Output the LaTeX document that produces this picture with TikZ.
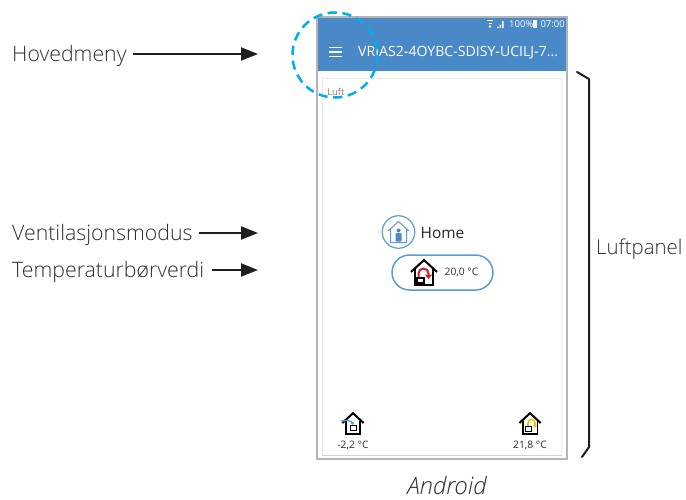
\documentclass[tikz,border=0pt]{standalone}
\usepackage{fontspec}
\setmainfont{Open Sans}
\newfontfamily\lightfont{Open Sans Light}
\usetikzlibrary{arrows.meta}
\definecolor{barblue}{HTML}{4A89C8}
\definecolor{ringblue}{HTML}{00AEEF}
\definecolor{pillblue}{HTML}{5B9BD5}
\definecolor{frame}{HTML}{B4B4B4}
\definecolor{inner}{HTML}{EAEAEA}
\definecolor{innerlow}{HTML}{D4D4D4}
\definecolor{ink}{HTML}{2E2E2E}
\definecolor{tempred}{HTML}{C8202F}
\definecolor{tempyel}{HTML}{F2C200}
\tikzset{
 x=1pt,y=-1pt,
 lbl/.style={font=\lightfont\fontsize{21.3}{24}\selectfont,text=ink,inner sep=0pt,anchor=base west},
 pointer/.style={draw=black!88,line width=2.2pt,-{Triangle[length=17pt,width=13pt]}},
 temp/.style={font=\fontsize{10.3}{12}\selectfont,text=ink,inner sep=0pt},
 housepic/.pic={
   \draw[black,line width=2pt,line join=miter] (-13,0) -- (0,-12) -- (13,0);
   \draw[black,line width=1.8pt] (-9,-3) -- (-9,13) -- (9,13) -- (9,-3);
 }
}
\begin{document}
\begin{tikzpicture}
\useasboundingbox (0,0) rectangle (686,499);
% phone
\node[draw=frame,line width=1.5pt,minimum width=250pt,minimum height=442pt,inner sep=0pt] (screen) at (442,238) {};
\node[fill=barblue,minimum width=248.5pt,minimum height=53pt,inner sep=0pt] (bar) at (442,44.5) {};
\node[draw=inner,line width=1pt,minimum width=239pt,minimum height=377pt,inner sep=0pt] (card) at (441.5,266.5) {};
\draw[innerlow,line width=1.4pt] (card.south west) -- (card.south east);
% status
\draw[white,line width=1pt] (487,20.5) -- (493,20.5) (488.5,23) -- (491.5,23);
\fill[white] (490,26.5) circle (1.3pt);
\fill[white] (497,28) rectangle (498.5,26.5) (499.5,28) rectangle (501,24.5) (502,28) rectangle (503.5,21);
\node[font=\fontsize{9.5}{11}\selectfont,text=white,inner sep=0pt,anchor=west] (pct) at (509,24) {100\%};
\node[fill=white,minimum width=4.5pt,minimum height=8.5pt,inner sep=0pt] (batt) at (535,24) {};
\node[font=\fontsize{9.5}{11}\selectfont,text=white,inner sep=0pt,anchor=east] (clock) at (565,24) {07:00};
% hamburger
\draw[white,line width=1.4pt] (329,47.5) -- (342,47.5) (329,52) -- (342,52) (329,56.5) -- (342,56.5);
\node[font=\fontsize{14.1}{16}\selectfont,text=white,inner sep=0pt,anchor=west] (title) at (358,52.5) {VRIAS2-4OYBC-SDISY-UCILJ-7...};
\node[font=\fontsize{9.5}{11}\selectfont,text=black!50,inner sep=0pt,anchor=west] (luft) at (327,92) {Luft};
% ring
\node[draw=ringblue,line width=2.5pt,dash pattern=on 9.2pt off 5.63pt,dash phase=9.2pt,circle,minimum size=85pt,inner sep=0pt] (ring) at (335,55) {};
% mode
\node[draw=pillblue,line width=1.2pt,circle,minimum size=32.5pt,inner sep=0pt] (modeicon) at (398.5,232) {};
\draw[pillblue,line width=1pt] (388,231) -- (398.5,221.5) -- (409,231) (390.5,229) -- (390.5,242.5) -- (406.5,242.5) -- (406.5,229);
\fill[barblue] (398.5,230.5) circle (2pt);
\fill[barblue,rounded corners=.8pt] (395.5,233) rectangle (401.5,241.5);
\node[font=\fontsize{15.4}{18}\selectfont,text=black!85,inner sep=0pt,anchor=base west] (home) at (420.5,238) {Home};
% pill
\node[draw=pillblue,line width=1.5pt,rounded corners=17.5pt,minimum width=101pt,minimum height=35pt,inner sep=0pt] (pill) at (442.5,272.5) {};
\path (424,272) pic {housepic};
\draw[tempred,line width=2pt,-{Triangle[length=4.5pt,width=7pt]}] (418.5,278) -- (418.5,273.5) arc[start angle=180,end angle=0,radius=5pt] -- (428.5,279);
\draw[black,line width=1.1pt,fill=white] (417,278) rectangle (424,283);
\node[temp] (t0) at (461.5,272) {20,0 °C};
% bottom icons
\path[scale=.82] (353/.82,423/.82) pic[scale=.82] {housepic};
\draw[pillblue,line width=1.3pt,-{Triangle[length=2.5pt,width=3.5pt]}] (341,421) -- (347,420.5) to[bend left=40] (353,425);
\draw[black,line width=1pt] (350,425) rectangle (356,430);
\node[temp] (t1) at (353,445) {-2,2 °C};
\path[scale=.82] (530/.82,423/.82) pic[scale=.82] {housepic};
\draw[tempyel,line width=1.6pt,-{Triangle[length=3pt,width=4pt]}] (528,426) -- (528,423) arc[start angle=180,end angle=0,radius=3.5pt] -- (535,428);
\draw[black,line width=1pt] (525,426) rectangle (531,431);
\node[temp] (t2) at (530,445) {21,8 °C};
% brace
\coordinate (bt) at (577,72);
\coordinate (bb) at (582,457);
\draw[black!88,line width=2pt,line cap=round,line join=round] (bt) -- (589,79) -- (589,447) -- (bb);
% labels
\node[lbl] (hm) at (12,61) {Hovedmeny};
\node[lbl] (vm) at (12,240) {Ventilasjonsmodus};
\node[lbl] (tv) at (12,277) {Temperaturbørverdi};
\coordinate (a1s) at (133,54);
\coordinate (a2s) at (199,233);
\coordinate (a3s) at (212,270);
\coordinate (a1) at (258,54);
\coordinate (a2) at (258,233);
\coordinate (a3) at (258,270);
\draw[pointer] (a1s) -- (a1);
\draw[pointer] (a2s) -- (a2);
\draw[pointer] (a3s) -- (a3);
\node[lbl,font=\lightfont\fontsize{20.4}{24}\selectfont] (lp) at (596,254) {Luftpanel};
\node[font=\lightfont\itshape\fontsize{24}{28}\selectfont,text=ink,inner sep=0pt,anchor=base] (an) at (447,494) {Android};
\end{tikzpicture}
\end{document}
